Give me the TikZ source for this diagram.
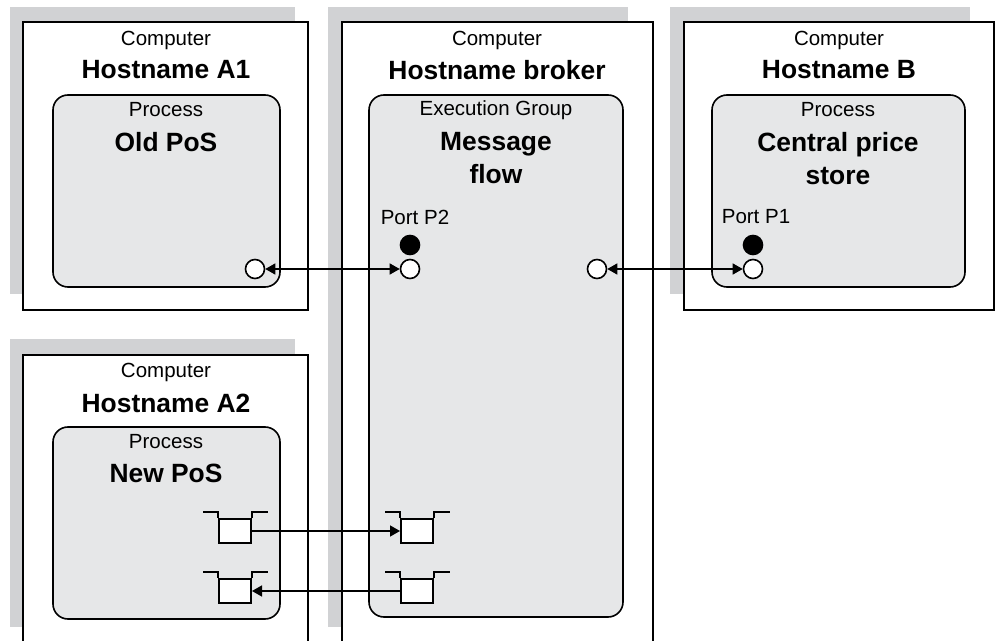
\documentclass[tikz,border=0pt]{standalone}
\usepackage{fontspec}
\setmainfont{Liberation Sans}
\usetikzlibrary{arrows.meta,positioning}
\definecolor{shadowgray}{RGB}{209,210,212}
\definecolor{procgray}{RGB}{230,231,232}

\begin{document}
\begin{tikzpicture}[x=0.5pt,y=-0.5pt,
  hostshadow/.style={fill=shadowgray},
  hostbox/.style={draw,line width=1pt,fill=white},
  procbox/.style={draw,line width=0.8pt,fill=procgray,rounded corners=7.5pt},
  kind/.style={font=\fontsize{10.25}{12}\selectfont},
  title/.style={font=\bfseries\fontsize{13.2}{16.5}\selectfont,align=center},
  port/.style={circle,draw,line width=0.8pt,fill=white,minimum size=9.5pt,inner sep=0pt},
  portfull/.style={port,fill=black},
  queuebox/.style={draw,line width=1pt,fill=white,minimum width=16pt,minimum height=12pt,inner sep=0pt},
  link/.style={line width=0.7pt,-{Triangle[length=5pt,width=5.5pt]}},
  twoway/.style={link,{Triangle[length=5pt,width=5.5pt]}-{Triangle[length=5pt,width=5.5pt]}}
]
  \useasboundingbox (0,0) rectangle (995,641);

  % shadows
  \fill[hostshadow] (10,7) rectangle (295,294);
  \fill[hostshadow] (328,7) rectangle (628,627);
  \fill[hostshadow] (670,7) rectangle (970,294);
  \fill[hostshadow] (10,339) rectangle (295,627);

  % computers
  \draw[hostbox] (23,22) rectangle (308,310);
  \draw[hostbox] (342,641) -- (342,22) -- (653,22) -- (653,641);
  \draw[hostbox] (684,22) rectangle (994,310);
  \draw[hostbox] (23,641) -- (23,355) -- (308,355) -- (308,641);

  % processes
  \draw[procbox] (53,95) rectangle (280,287);
  \draw[procbox] (369,95) rectangle (623,617);
  \draw[procbox] (712,95) rectangle (965,287);
  \draw[procbox] (53,427) rectangle (280,619);

  \node[kind] (compa1) at (166,40) {Computer};
  \node[title] (hosta1) at (166,70) {Hostname A1};
  \node[kind] (kinda1) at (166,110) {Process};
  \node[title] (namea1) at (166,142) {Old PoS};

  \node[kind] (compbr) at (497,40) {Computer};
  \node[title] (hostbr) at (497,70) {Hostname broker};
  \node[kind] (kindbr) at (496,110) {Execution Group};
  \node[title] (namebr) at (496,158.5) {Message\\flow};

  \node[kind] (compb) at (839,40) {Computer};
  \node[title] (hostb) at (839,70) {Hostname B};
  \node[kind] (kindb) at (838,110) {Process};
  \node[title] (nameb) at (838,158.5) {Central price\\store};

  \node[kind] (compa2) at (166,372) {Computer};
  \node[title] (hosta2) at (166,403) {Hostname A2};
  \node[kind] (kinda2) at (166,442) {Process};
  \node[title] (namea2) at (166,473) {New PoS};

  % ports
  \node[kind] (lblp2) at (415,217) {Port P2};
  \node[portfull] (dotp2) at (410,245) {};
  \node[port] (p2) at (410,269) {};
  \node[kind] (lblp1) at (756,217) {Port P1};
  \node[portfull] (dotp1) at (753,245) {};
  \node[port] (p1) at (753,269) {};
  \node[port] (pa1) at (255,269) {};
  \node[port] (pbr) at (597,269) {};

  \draw[twoway] (pa1) -- (p2);
  \draw[twoway] (pbr) -- (p1);

  % queues
  \node[queuebox] (aq1) at (235,531) {};
  \node[queuebox] (aq2) at (235,591) {};
  \node[queuebox] (bq1) at (417,531) {};
  \node[queuebox] (bq2) at (417,591) {};
  \foreach \q in {aq1,aq2,bq1,bq2} {
    \draw[line width=1pt] (\q.north west) -- ++(0,-6) -- ++(-15,0);
    \draw[line width=1pt] (\q.north east) -- ++(0,-6) -- ++(16,0);
  }

  \draw[link] (aq1) -- (bq1);
  \draw[link] (bq2) -- (aq2);
\end{tikzpicture}
\end{document}
